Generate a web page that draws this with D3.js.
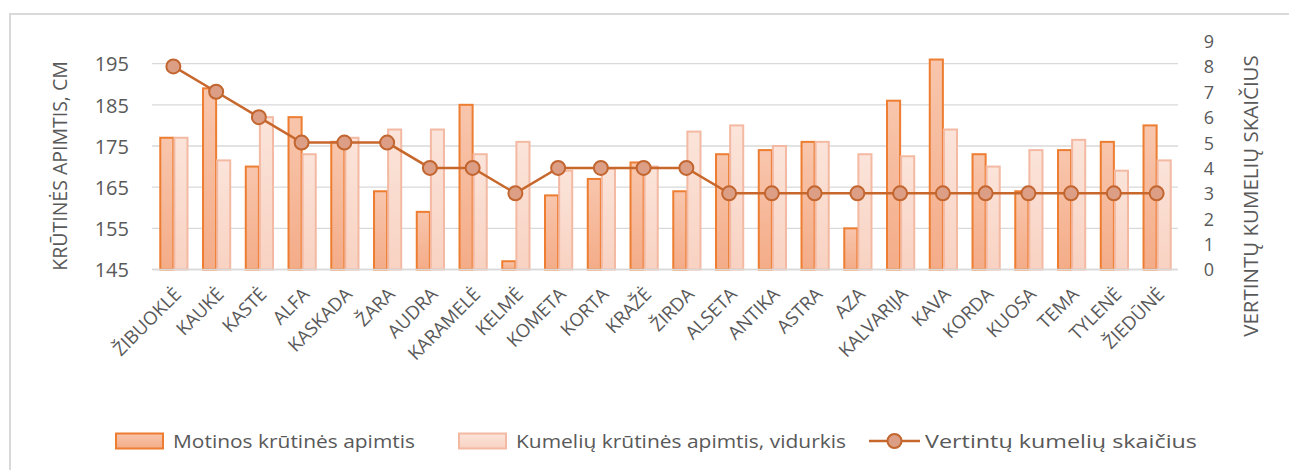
<!DOCTYPE html>
<html>
<head>
<meta charset="utf-8">
<script src="https://cdn.jsdelivr.net/npm/d3@7"></script>
<style>
  body { margin: 0; background: #fff; }
  text { font-family: "Open Sans", "DejaVu Sans", sans-serif; fill: #595959; }
</style>
</head>
<body>
<svg id="chart" width="1289" height="470"></svg>
<script>
const names = ["ŽIBUOKLĖ","KAUKĖ","KASTĖ","ALFA","KASKADA","ŽARA","AUDRA","KARAMELĖ","KELMĖ","KOMETA",
  "KORTA","KRAŽĖ","ŽIRDA","ALSETA","ANTIKA","ASTRA","AZA","KALVARIJA","KAVA","KORDA","KUOSA","TEMA","TYLENĖ","ŽIEDŪNĖ"];
const motherChest = [177,189,170,182,176,164,159,185,147,163,167,171,164,173,174,176,155,186,196,173,164,174,176,180];
const foalChest = [177,171.5,182,173,177,179,179,173,176,169,169.5,170,178.5,180,175,176,173,172.5,179,170,174,176.5,169,171.5];
const foalCount = [8,7,6,5,5,5,4,4,3,4,4,4,4,3,3,3,3,3,3,3,3,3,3,3];
const leftTicks = [145,155,165,175,185,195];
const rightTicks = [0,1,2,3,4,5,6,7,8,9];
const legendLabels = ["Motinos krūtinės apimtis","Kumelių krūtinės apimtis,  vidurkis","Vertintų  kumelių skaičius"];

const svg = d3.select("#chart");
const plotLeft = 152, plotRight = 1178, plotTop = 41, plotBottom = 269.5;

// frame of the chart area
svg.append("path").attr("d", "M10,470 V14 H1289")
  .attr("fill", "none").attr("stroke", "#d9d9d9").attr("stroke-width", 2);

const defs = svg.append("defs");
const g1 = defs.append("linearGradient").attr("id", "gMother").attr("x1", 0).attr("y1", 0).attr("x2", 0).attr("y2", 1);
g1.append("stop").attr("offset", "0%").attr("stop-color", "#f8c6ad");
g1.append("stop").attr("offset", "100%").attr("stop-color", "#f4ac88");
const g2 = defs.append("linearGradient").attr("id", "gFoal").attr("x1", 0).attr("y1", 0).attr("x2", 0).attr("y2", 1);
g2.append("stop").attr("offset", "0%").attr("stop-color", "#fbe4da");
g2.append("stop").attr("offset", "100%").attr("stop-color", "#f8d2c2");

const x = d3.scaleBand().domain(names).range([plotLeft, plotRight]).paddingInner(0.34).paddingOuter(0.17);
const xSub = d3.scaleBand().domain([0, 1]).range([0, x.bandwidth()]);
const y = d3.scaleLinear().domain([145, 200.5]).range([plotBottom, plotTop]);
const y2 = d3.scaleLinear().domain([0, 9]).range([plotBottom, plotTop]);

// gridlines
svg.append("g").selectAll("line").data(leftTicks).join("line")
  .attr("x1", plotLeft).attr("x2", plotRight)
  .attr("y1", d => y(d)).attr("y2", d => y(d))
  .attr("stroke", "#d9d9d9").attr("stroke-width", 1.3);

// bars
const bars = svg.append("g");
bars.selectAll(".m").data(names).join("rect").attr("class", "m")
  .attr("x", (d, i) => x(d) + xSub(0) + 1)
  .attr("y", (d, i) => y(motherChest[i]))
  .attr("width", xSub.bandwidth() - 1)
  .attr("height", (d, i) => y(145) - y(motherChest[i]))
  .attr("fill", "url(#gMother)").attr("stroke", "#ed7d31").attr("stroke-width", 2);
bars.selectAll(".f").data(names).join("rect").attr("class", "f")
  .attr("x", (d, i) => x(d) + xSub(1) + 1)
  .attr("y", (d, i) => y(foalChest[i]))
  .attr("width", xSub.bandwidth() - 1)
  .attr("height", (d, i) => y(145) - y(foalChest[i]))
  .attr("fill", "url(#gFoal)").attr("stroke", "#f4b9a2").attr("stroke-width", 2);

// line series
const cx = d => x(d) + x.bandwidth() / 2;
svg.append("path").datum(names)
  .attr("d", d3.line().x(d => cx(d)).y((d, i) => y2(foalCount[i])))
  .attr("fill", "none").attr("stroke", "#c8672c").attr("stroke-width", 2.5);
svg.append("g").selectAll("circle").data(names).join("circle")
  .attr("cx", d => cx(d)).attr("cy", (d, i) => y2(foalCount[i])).attr("r", 7)
  .attr("fill", "#dc9f86").attr("stroke", "#c2652f").attr("stroke-width", 2);

// left axis
const yAxis = svg.append("g").attr("transform", `translate(${plotLeft},0)`)
  .call(d3.axisLeft(y).tickValues(leftTicks).tickSize(0).tickPadding(0));
yAxis.select(".domain").remove();
yAxis.selectAll("text").attr("x", -23).attr("font-size", 20).attr("fill", "#595959").attr("dy", "0.36em");

// right axis
const y2Axis = svg.append("g").attr("transform", `translate(${plotRight},0)`)
  .call(d3.axisRight(y2).tickValues(rightTicks).tickSize(0).tickPadding(0));
y2Axis.select(".domain").remove();
y2Axis.selectAll("text").attr("x", 31).attr("font-size", 18).attr("fill", "#595959")
  .attr("text-anchor", "middle").attr("dy", "0.36em");

// category axis
const xAxis = svg.append("g").attr("transform", `translate(0,${plotBottom})`)
  .call(d3.axisBottom(x).tickSize(0).tickPadding(0));
xAxis.select(".domain").attr("stroke", "#d9d9d9").attr("stroke-width", 1.3)
  .attr("d", `M${plotLeft},0H${plotRight}`);
xAxis.selectAll("text")
  .attr("font-size", 18.5).attr("fill", "#595959")
  .attr("text-anchor", "end").attr("dy", 0).attr("y", 0)
  .attr("transform", "translate(9,26) rotate(-45)");

// axis titles
svg.append("text").attr("transform", "translate(67,166) rotate(-90)")
  .attr("text-anchor", "middle").attr("font-size", 19.5).text("KRŪTINĖS APIMTIS, CM");
svg.append("text").attr("transform", "translate(1258,196) rotate(-90)")
  .attr("text-anchor", "middle").attr("font-size", 20.5).text("VERTINTŲ KUMELIŲ SKAIČIUS");

// legend
const leg = svg.append("g").attr("transform", "translate(0,441)");
leg.append("rect").attr("x", 116).attr("y", -7.5).attr("width", 47).attr("height", 15)
  .attr("fill", "url(#gMother)").attr("stroke", "#ed7d31").attr("stroke-width", 2);
leg.append("text").attr("x", 173).attr("y", 0).attr("dy", "0.36em").attr("font-size", 19)
  .attr("textLength", 242).attr("lengthAdjust", "spacingAndGlyphs").text(legendLabels[0]);
leg.append("rect").attr("x", 459).attr("y", -7.5).attr("width", 47).attr("height", 15)
  .attr("fill", "url(#gFoal)").attr("stroke", "#f4b9a2").attr("stroke-width", 2);
leg.append("text").attr("x", 516).attr("y", 0).attr("dy", "0.36em").attr("font-size", 19)
  .attr("textLength", 330).attr("lengthAdjust", "spacingAndGlyphs").text(legendLabels[1]);
leg.append("line").attr("x1", 869).attr("x2", 920).attr("y1", 0).attr("y2", 0)
  .attr("stroke", "#c8672c").attr("stroke-width", 2.5);
leg.append("circle").attr("cx", 894.5).attr("cy", 0).attr("r", 7)
  .attr("fill", "#dc9f86").attr("stroke", "#c2652f").attr("stroke-width", 2);
leg.append("text").attr("x", 925).attr("y", 0).attr("dy", "0.36em").attr("font-size", 19)
  .attr("textLength", 272).attr("lengthAdjust", "spacingAndGlyphs").text(legendLabels[2]);
</script>
</body>
</html>
